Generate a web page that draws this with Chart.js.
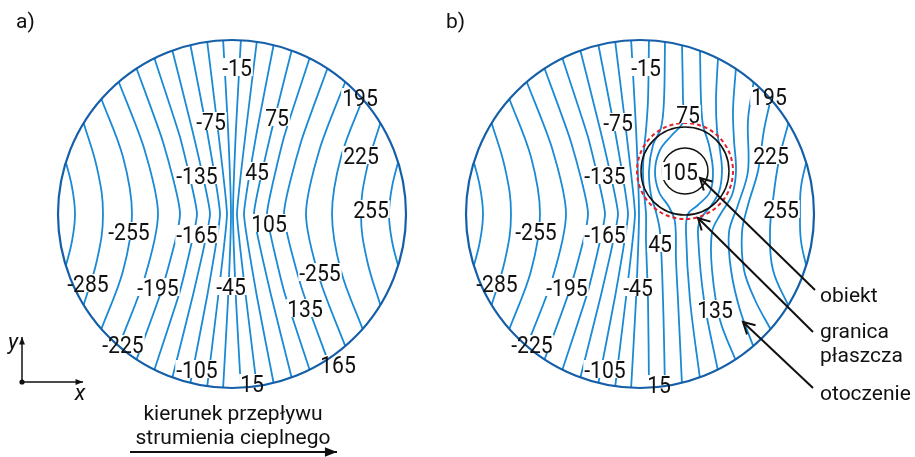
<!DOCTYPE html>
<html>
<head>
<meta charset="utf-8">
<script src="https://cdn.jsdelivr.net/npm/chart.js@4/dist/chart.umd.min.js"></script>
<style>
  html, body { margin: 0; padding: 0; background: #fff; }
  body { width: 915px; height: 457px; position: relative; overflow: hidden; }
  .panel { position: absolute; top: 0; height: 457px; }
  #panelA { left: 0; width: 440px; }
  #panelB { left: 440px; width: 475px; }
</style>
</head>
<body>
<div id="panelA" class="panel"><canvas id="chartA"></canvas></div>
<div id="panelB" class="panel"><canvas id="chartB"></canvas></div>
<script>
// Isotherm values, left to right
const isoValues = [-285, -255, -225, -195, -165, -135, -105, -75, -45, -15,
                   15, 45, 75, 105, 135, 165, 195, 225, 255, 285];

// Disk domain: centre at (0,0), y pointing up
const R = 174;

// ---- a) homogeneous disk: isotherm points [x, y] ----
const a_m285 = [[-167,55],[-160,27],[-157,0],[-160,-27],[-167,-55]];
const a_m255 = [[-149,93],[-135,46],[-129,0],[-135,-46],[-149,-93]];
const a_m225 = [[-131,116],[-109,57],[-100,0],[-109,-57],[-131,-116]];
const a_m195 = [[-114,134],[-88,66],[-74,0],[-88,-66],[-114,-134]];
const a_m165 = [[-96,147],[-69,72],[-52,0],[-69,-72],[-96,-147]];
const a_m135 = [[-78,157],[-52,77],[-35,0],[-52,-77],[-78,-157]];
const a_m105 = [[-60,165],[-39,81],[-22,0],[-39,-81],[-60,-165]];
const a_m75  = [[-42,171],[-25,83],[-12,0],[-25,-83],[-42,-171]];
const a_m45  = [[-25,174],[-14,84],[-5,0],[-14,-84],[-25,-174]];
const a_m15  = [[-9,176],[-4,86],[-1,0],[-4,-86],[-9,-176]];
const a_15   = [[9,176],[4,86],[1,0],[4,-86],[9,-176]];
const a_45   = [[25,174],[14,84],[5,0],[14,-84],[25,-174]];
const a_75   = [[42,171],[25,83],[12,0],[25,-83],[42,-171]];
const a_105  = [[60,165],[39,81],[22,0],[39,-81],[60,-165]];
const a_135  = [[78,157],[52,77],[35,0],[52,-77],[78,-157]];
const a_165  = [[96,147],[69,72],[52,0],[69,-72],[96,-147]];
const a_195  = [[114,134],[88,66],[74,0],[88,-66],[114,-134]];
const a_225  = [[131,116],[109,57],[100,0],[109,-57],[131,-116]];
const a_255  = [[149,93],[135,46],[129,0],[135,-46],[149,-93]];
const a_285  = [[167,55],[160,27],[157,0],[160,-27],[167,-55]];

// ---- b) disk with a jacketed object: isotherm points [x, y] ----
const b_m285 = [[-167,55],[-160,27],[-157,0],[-160,-27],[-167,-55]];
const b_m255 = [[-149,93],[-135,46],[-129,0],[-135,-46],[-149,-93]];
const b_m225 = [[-131,116],[-109,57],[-100,0],[-109,-57],[-131,-116]];
const b_m195 = [[-114,134],[-88,66],[-74,0],[-88,-66],[-114,-134]];
const b_m165 = [[-96,147],[-69,72],[-52,0],[-69,-72],[-96,-147]];
const b_m135 = [[-78,157],[-52,77],[-35,0],[-52,-77],[-78,-157]];
const b_m105 = [[-60,165],[-39,81],[-22,0],[-39,-81],[-60,-165]];
const b_m75  = [[-42,171],[-25,83],[-12,0],[-25,-83],[-42,-171]];
const b_m45  = [[-25,174],[-14,84],[-5,0],[-14,-84],[-25,-174]];
const b_m15  = [[-9,176],[-4,86],[-1,0],[-4,-86],[-9,-176]];
const b_15   = [[9,176],[8,114],[6,84],[4,64],[3,43],[4,22],[6,0],[6,-26],[8,-86],[9,-176]];
const b_45   = [[25,174],[24,114],[21,86],[13,69],[9,43],[11,19],[16,2],[20,-18],[23,-86],[25,-174]];
const b_75   = [[42,171],[43,114],[43,92],[32,79],[20,64],[15,43],[19,22],[29,7],[35,-8],[36,-46],[38,-86],[42,-171]];
const b_105  = [[60,165],[61,114],[63,89],[69,69],[73,43],[70,22],[58,9],[48,0],[46,-18],[50,-86],[60,-165]];
const b_135  = [[78,157],[76,114],[77,84],[80,64],[82,43],[79,22],[70,7],[60,-6],[58,-21],[64,-86],[78,-157]];
const b_165  = [[96,147],[93,104],[94,74],[96,43],[92,19],[80,-1],[72,-18],[72,-56],[80,-106],[96,-147]];
const b_195  = [[114,134],[108,94],[108,43],[98,9],[89,-18],[91,-56],[100,-96],[114,-134]];
const b_225  = [[131,116],[124,84],[118,43],[108,9],[102,-18],[104,-56],[115,-86],[131,-116]];
const b_255  = [[149,93],[139,54],[133,14],[130,-18],[133,-56],[149,-93]];
const b_285  = [[167,55],[161,27],[160,0],[161,-27],[167,-55]];

// Object and its jacket in panel b
const objCenter = [45, 43];
const objRadius = 23;
const shellRadius = 44;
const jacketRadius = 48;

// Contour labels as printed, with their anchor points
const tagTextA = ['-15','-75','75','195','45','225','-135','105','255','-255',
                  '-165','-255','-285','-195','-45','135','-225','-105','15','165'];
const tagPosA  = [[5,147],[-21,93],[45,97],[128,117],[25,43],[129,59],[-35,39],[37,-9],[139,5],[-103,-17],
                  [-35,-20],[88,-58],[-144,-69],[-74,-73],[-1,-72],[73,-94],[-109,-130],[-35,-155],[20,-169],[106,-150]];
const tagTextB = ['-15','-75','75','195','105','225','-135','255','-255','-165',
                  '45','-285','-195','-45','135','-225','-105','15'];
const tagPosB  = [[6,147],[-22,92],[48,100],[129,118],[40,43],[131,59],[-35,39],[141,5],[-104,-17],[-35,-20],
                  [20,-29],[-143,-69],[-73,-73],[-2,-73],[75,-95],[-108,-130],[-35,-155],[19,-170]];

const linesA = [a_m285,a_m255,a_m225,a_m195,a_m165,a_m135,a_m105,a_m75,a_m45,a_m15,
                a_15,a_45,a_75,a_105,a_135,a_165,a_195,a_225,a_255,a_285];
const linesB = [b_m285,b_m255,b_m225,b_m195,b_m165,b_m135,b_m105,b_m75,b_m45,b_m15,
                b_15,b_45,b_75,b_105,b_135,b_165,b_195,b_225,b_255,b_285];

// Curve smoothing per isotherm (sharper near the centre)
const tensionA = [0.4,0.4,0.35,0.25,0.18,0.12,0.12,0.12,0.12,0.12,
                  0.12,0.12,0.12,0.12,0.12,0.18,0.25,0.35,0.4,0.4];
const tensionB = [0.4,0.4,0.35,0.25,0.18,0.12,0.12,0.12,0.12,0.12,
                  0.35,0.35,0.35,0.35,0.35,0.35,0.35,0.35,0.4,0.4];

const ISO_COLOR = '#1a8ad4';
const RIM_COLOR = '#145fa8';
const FONT = 'Roboto, "Noto Sans", sans-serif';

function isolineDatasets(lines, tensions) {
  return lines.map((pts, i) => ({
    label: 'T = ' + isoValues[i],
    data: pts.map(p => ({ x: p[0], y: p[1] })),
    showLine: true,
    borderColor: ISO_COLOR,
    borderWidth: 1.8,
    pointRadius: 0,
    pointHoverRadius: 0,
    tension: tensions[i],
    fill: false
  }));
}

function helpers(chart) {
  const xs = chart.scales.x, ys = chart.scales.y;
  return {
    px: v => xs.getPixelForValue(v),
    py: v => ys.getPixelForValue(v),
    len: v => xs.getPixelForValue(v) - xs.getPixelForValue(0)
  };
}

// contour labels: narrow face, white knock-out behind the digits
const TAG_SIZE = 24, TAG_SQUEEZE = 0.88;
function drawTags(chart, texts, pos, pass) {
  const { ctx } = chart;
  const { px, py } = helpers(chart);
  ctx.save();
  ctx.font = TAG_SIZE + 'px ' + FONT;
  texts.forEach((t, i) => {
    const cx = px(pos[i][0]), cy = py(pos[i][1]);
    const w = ctx.measureText(t).width * TAG_SQUEEZE;
    if (pass === 'bg') {
      ctx.fillStyle = '#fff';
      ctx.fillRect(cx - w / 2 - 1, cy - 9, w + 2, 18);
    } else {
      ctx.save();
      ctx.translate(cx, cy + 0.711 * TAG_SIZE / 2);
      ctx.scale(TAG_SQUEEZE, 1);
      ctx.fillStyle = '#111';
      ctx.textAlign = 'center';
      ctx.textBaseline = 'alphabetic';
      ctx.fillText(t, 0, 0);
      ctx.restore();
    }
  });
  ctx.restore();
}

function drawRim(chart) {
  const { ctx } = chart;
  const { px, py, len } = helpers(chart);
  ctx.save();
  ctx.strokeStyle = RIM_COLOR;
  ctx.lineWidth = 2.2;
  ctx.beginPath();
  ctx.arc(px(0), py(0), len(R), 0, Math.PI * 2);
  ctx.stroke();
  ctx.restore();
}

function arrow(ctx, x1, y1, x2, y2, head, filled) {
  ctx.beginPath();
  ctx.moveTo(x1, y1);
  ctx.lineTo(x2, y2);
  ctx.stroke();
  const a = Math.atan2(y2 - y1, x2 - x1);
  const s = filled ? 0.38 : 0.5;
  ctx.beginPath();
  ctx.moveTo(x2 - head * Math.cos(a - s), y2 - head * Math.sin(a - s));
  ctx.lineTo(x2, y2);
  ctx.lineTo(x2 - head * Math.cos(a + s), y2 - head * Math.sin(a + s));
  if (filled) { ctx.closePath(); ctx.fill(); } else { ctx.stroke(); }
}

function diskPlugin(drawOverlay) {
  return {
    id: 'disk',
    beforeDatasetsDraw(chart) {
      const { ctx } = chart;
      const { px, py, len } = helpers(chart);
      ctx.save();
      ctx.beginPath();
      ctx.arc(px(0), py(0), len(R), 0, Math.PI * 2);
      ctx.clip();
    },
    afterDatasetsDraw(chart) {
      chart.ctx.restore();
      drawOverlay(chart);
    }
  };
}

function baseOptions(xmin, xmax) {
  return {
    responsive: true,
    maintainAspectRatio: false,
    animation: false,
    devicePixelRatio: 1,
    events: [],
    layout: { padding: 0 },
    plugins: { legend: { display: false }, tooltip: { enabled: false } },
    scales: {
      x: { type: 'linear', min: xmin, max: xmax, display: false },
      y: { type: 'linear', min: -243, max: 214, display: false }
    }
  };
}

// ---------- panel a ----------
new Chart(document.getElementById('chartA'), {
  type: 'scatter',
  data: { datasets: isolineDatasets(linesA, tensionA) },
  options: baseOptions(-232, 208),
  plugins: [diskPlugin(chart => {
    const { ctx } = chart;
    const { px, py } = helpers(chart);
    drawTags(chart, tagTextA, tagPosA, 'bg');
    drawRim(chart);
    drawTags(chart, tagTextA, tagPosA, 'text');

    ctx.save();
    ctx.fillStyle = '#111';
    ctx.font = '21px ' + FONT;
    ctx.textAlign = 'left';
    ctx.fillText('a)', px(-216), py(186));

    // coordinate axes glyph
    ctx.strokeStyle = '#111';
    ctx.lineWidth = 1.5;
    arrow(ctx, px(-210), py(-168), px(-210), py(-123), 8, true);
    arrow(ctx, px(-210), py(-168), px(-149), py(-168), 8, true);
    ctx.beginPath();
    ctx.arc(px(-210), py(-168), 2.6, 0, Math.PI * 2);
    ctx.fill();
    ctx.font = 'italic 22px ' + FONT;
    ctx.textAlign = 'center';
    ctx.fillText('y', px(-219), py(-135));
    ctx.fillText('x', px(-152), py(-186));

    // heat flux direction
    ctx.font = '21px ' + FONT;
    ctx.fillText('kierunek przepływu', px(1), py(-206));
    ctx.fillText('strumienia cieplnego', px(1), py(-230));
    ctx.lineWidth = 2;
    arrow(ctx, px(-102), py(-238), px(105), py(-238), 13, true);
    ctx.restore();
  })]
});

// ---------- panel b ----------
new Chart(document.getElementById('chartB'), {
  type: 'scatter',
  data: { datasets: isolineDatasets(linesB, tensionB) },
  options: baseOptions(-200, 275),
  plugins: [diskPlugin(chart => {
    const { ctx } = chart;
    const { px, py, len } = helpers(chart);
    const ox = px(objCenter[0]), oy = py(objCenter[1]);

    ctx.save();
    // object interior is isothermal
    ctx.fillStyle = '#fff';
    ctx.beginPath();
    ctx.arc(ox, oy, len(objRadius), 0, Math.PI * 2);
    ctx.fill();
    ctx.strokeStyle = '#111';
    ctx.lineWidth = 1.5;
    ctx.stroke();
    ctx.beginPath();
    ctx.arc(ox, oy, len(shellRadius), 0, Math.PI * 2);
    ctx.stroke();
    ctx.strokeStyle = '#e3202b';
    ctx.lineWidth = 2;
    ctx.setLineDash([4, 3]);
    ctx.beginPath();
    ctx.arc(ox, oy, len(jacketRadius), 0, Math.PI * 2);
    ctx.stroke();
    ctx.restore();

    drawTags(chart, tagTextB, tagPosB, 'bg');
    drawRim(chart);
    drawTags(chart, tagTextB, tagPosB, 'text');

    ctx.save();
    ctx.fillStyle = '#111';
    ctx.strokeStyle = '#111';
    ctx.font = '21px ' + FONT;
    ctx.textAlign = 'left';
    ctx.fillText('b)', px(-194), py(186));

    // callouts
    ctx.lineWidth = 2;
    arrow(ctx, px(175), py(-76), px(60), py(36), 13, false);
    arrow(ctx, px(173), py(-118), px(58), py(-4), 13, false);
    arrow(ctx, px(173), py(-174), px(103), py(-108), 13, false);
    ctx.fillText('obiekt', px(180), py(-88));
    ctx.fillText('granica', px(180), py(-124));
    ctx.fillText('płaszcza', px(180), py(-148));
    ctx.fillText('otoczenie', px(180), py(-186));
    ctx.restore();
  })]
});
</script>
</body>
</html>
